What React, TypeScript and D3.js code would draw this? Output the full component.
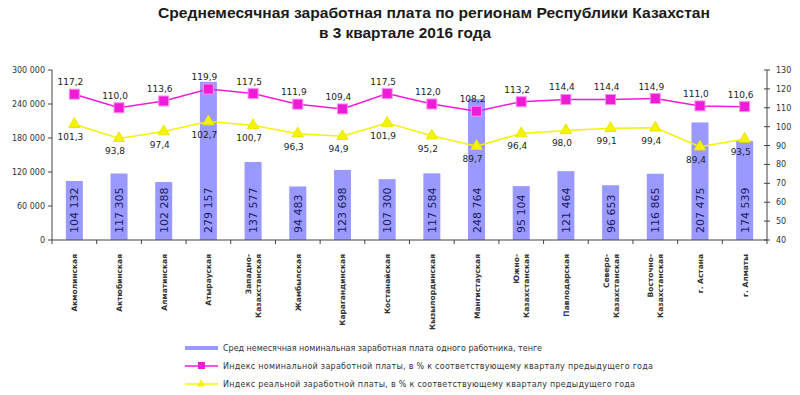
import React from 'react';
import * as d3 from 'd3';

const regions = [
  ['Акмолинская'], ['Актюбинская'], ['Алматинская'], ['Атырауская'],
  ['Западно-', 'Казахстанская'], ['Жамбылская'], ['Карагандинская'], ['Костанайская'],
  ['Кызылординская'], ['Мангистауская'], ['Южно-', 'Казахстанская'], ['Павлодарская'],
  ['Северо-', 'Казахстанская'], ['Восточно-', 'Казахстанская'], ['г. Астана'], ['г. Алматы'],
];
const wages = [104132, 117305, 102288, 279157, 137577, 94483, 123698, 107300, 117584, 248764, 95104, 121464, 96653, 116865, 207475, 174539];
const nominalIdx = [117.2, 110.0, 113.6, 119.9, 117.5, 111.9, 109.4, 117.5, 112.0, 108.2, 113.2, 114.4, 114.4, 114.9, 111.0, 110.6];
const realIdx = [101.3, 93.8, 97.4, 102.7, 100.7, 96.3, 94.9, 101.9, 95.2, 89.7, 96.4, 98.0, 99.1, 99.4, 89.4, 93.5];
const leftTicks = [0, 60000, 120000, 180000, 240000, 300000];
const rightTicks = [40, 50, 60, 70, 80, 90, 100, 110, 120, 130];
const legendItems = [
  'Сред немесячная номинальная заработная плата одного работника, тенге',
  'Индекс номинальной заработной платы, в % к соответствующему кварталу предыдущего года',
  'Индекс реальной заработной платы, в % к соответствующему кварталу предыдущего года',
];
const legendWidths = [319, 430, 412];

const BAR = '#9999ff';
const MAG = '#ee1cd8';
const YEL = '#f4f400';
const numFont = 'Verdana, "DejaVu Sans", sans-serif';

const fmt = (v: number) => d3.format(',')(v).replace(/,/g, ' ');
const fmtIdx = (v: number) => v.toFixed(1).replace('.', ',');

export default function App() {
  const left = 52, right = 767, top = 70, bottom = 240;
  const idx = d3.range(regions.length);
  const x = d3.scaleBand<number>().domain(idx).range([left, right]);
  const yL = d3.scaleLinear().domain([0, 300000]).range([bottom, top]);
  const yR = d3.scaleLinear().domain([40, 130]).range([bottom, top]);
  const cx = (i: number) => (x(i) as number) + x.bandwidth() / 2;
  const barW = 17;

  const lineN = d3.line<number>().x((_, i) => cx(i)).y(d => yR(d));
  const tri = d3.symbol().type(d3.symbolTriangle).size(55)();

  return (
    <svg width={800} height={395} style={{ position: 'absolute', left: 0, top: 0, background: '#fff' }}>
      <g fontFamily='"Liberation Sans Narrow", "Liberation Sans", Arial, sans-serif' fontWeight="bold" fill="#1a1a1a" textAnchor="middle">
        <text x={434} y={18} fontSize={15} textLength={552} lengthAdjust="spacingAndGlyphs">Среднемесячная заработная плата по регионам Республики Казахстан</text>
        <text x={405} y={38} fontSize={15} textLength={172} lengthAdjust="spacingAndGlyphs">в 3 квартале 2016 года</text>
      </g>

      {/* bars */}
      {wages.map((v, i) => (
        <rect key={i} x={cx(i) - barW / 2} y={yL(v)} width={barW} height={bottom - yL(v)} fill={BAR} />
      ))}
      {wages.map((v, i) => (
        <text key={i} transform={`translate(${cx(i) + 4},${bottom - 7}) rotate(-90)`} fontSize={11}
          fontFamily={numFont} fill="#1b1b60">{fmt(v)}</text>
      ))}

      {/* axes */}
      <line x1={left} x2={left} y1={top} y2={bottom} stroke="#444" />
      <line x1={right} x2={right} y1={top} y2={bottom} stroke="#444" />
      <line x1={left} x2={right} y1={bottom} y2={bottom} stroke="#444" />
      {leftTicks.map(t => (
        <g key={t}>
          <line x1={left - 4} x2={left} y1={yL(t)} y2={yL(t)} stroke="#444" />
          <text x={left - 7} y={yL(t) + 3} fontSize={8} textAnchor="end" fontFamily={numFont} fill="#333">{fmt(t)}</text>
        </g>
      ))}
      {rightTicks.map(t => (
        <g key={t}>
          <line x1={right - 3} x2={right + 3} y1={yR(t)} y2={yR(t)} stroke="#444" />
          <text x={right + 9} y={yR(t) + 3} fontSize={8} fontFamily={numFont} fill="#333">{t}</text>
        </g>
      ))}
      {d3.range(regions.length + 1).map(i => {
        const xx = left + i * x.step();
        return <line key={i} x1={xx} x2={xx} y1={bottom} y2={bottom + 4} stroke="#444" />;
      })}

      {/* lines */}
      <path d={lineN(realIdx) || ''} fill="none" stroke={YEL} strokeWidth={1.5} />
      <path d={lineN(nominalIdx) || ''} fill="none" stroke={MAG} strokeWidth={1.5} />
      {nominalIdx.map((v, i) => (
        <rect key={i} x={cx(i) - 5} y={yR(v) - 5} width={10} height={10} fill={MAG} stroke="#ff8cf0" strokeWidth={1} />
      ))}
      {realIdx.map((v, i) => (
        <path key={i} d={tri || ''} transform={`translate(${cx(i)},${yR(v)})`} fill={YEL} stroke="#e8e800" />
      ))}
      {nominalIdx.map((v, i) => (
        <text key={i} x={cx(i) - 4} y={yR(v) - 9} fontSize={9} textAnchor="middle" fontFamily={numFont} fill="#222">{fmtIdx(v)}</text>
      ))}
      {realIdx.map((v, i) => (
        <text key={i} x={cx(i) - 4} y={yR(v) + 16} fontSize={9} textAnchor="middle" fontFamily={numFont} fill="#222">{fmtIdx(v)}</text>
      ))}

      {/* category labels */}
      {regions.map((lines, i) => (
        <text key={i} transform={`translate(${cx(i)},${bottom + 14}) rotate(-90)`} fontSize={7.5} fontWeight="bold"
          textAnchor="end" fontFamily='"DejaVu Sans", sans-serif' fill="#333">
          {lines.map((s, k) => (
            <tspan key={k} x={0} y={(k - (lines.length - 1) / 2) * 10 + 3}>{s}</tspan>
          ))}
        </text>
      ))}

      {/* legend */}
      <g fontSize={8} fontFamily={numFont} fill="#333">
        <rect x={185} y={346} width={33} height={4} fill={BAR} />
        <text x={223} y={351} textLength={legendWidths[0]} lengthAdjust="spacing">{legendItems[0]}</text>
        <line x1={185} x2={218} y1={366} y2={366} stroke={MAG} strokeWidth={1.5} />
        <rect x={198} y={362} width={7} height={7} fill={MAG} />
        <text x={223} y={369} textLength={legendWidths[1]} lengthAdjust="spacing">{legendItems[1]}</text>
        <line x1={185} x2={218} y1={384} y2={384} stroke={YEL} strokeWidth={1.5} />
        <path d={d3.symbol().type(d3.symbolTriangle).size(30)() || ''} transform="translate(201,384)" fill={YEL} />
        <text x={223} y={387} textLength={legendWidths[2]} lengthAdjust="spacing">{legendItems[2]}</text>
      </g>
    </svg>
  );
}
